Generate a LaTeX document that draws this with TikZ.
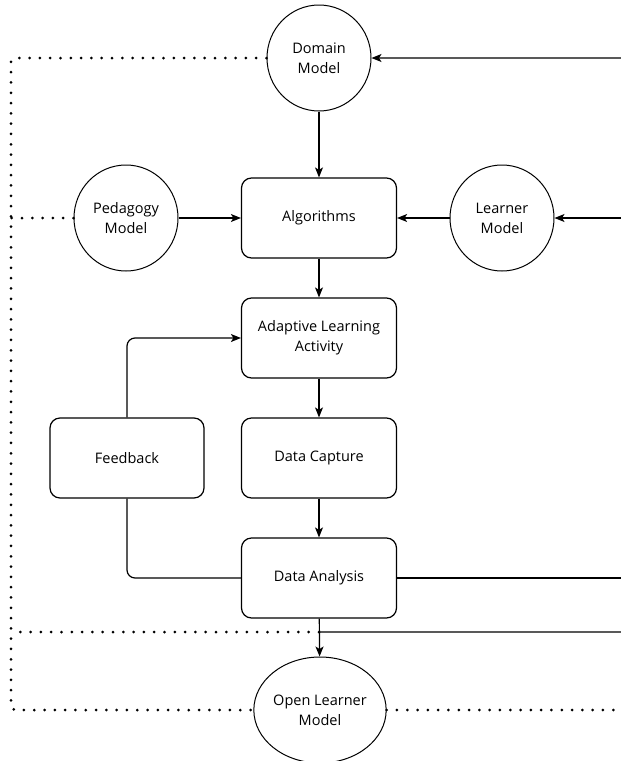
\documentclass[tikz,border=0pt]{standalone}
\usepackage{fontspec}
\setmainfont{Open Sans}
\usetikzlibrary{arrows.meta,shapes.geometric}
\tikzset{
  box/.style={draw, rounded corners=10pt, minimum width=155pt, minimum height=80pt, align=center, line width=1.2pt},
  model/.style={draw, ellipse, inner sep=0pt, minimum width=104pt, minimum height=106pt, align=center, line width=1pt},
  flow/.style={-{Stealth[length=10pt,width=8pt,inset=2.5pt]}, line width=1.2pt},
  link/.style={line width=1.2pt, rounded corners=8pt},
  dots/.style={line width=3pt, line cap=round, dash pattern=on 0pt off 10.3pt}
}
\begin{document}
\begin{tikzpicture}[x=1pt,y=-1pt,font=\fontsize{14.5}{20}\selectfont]
    \useasboundingbox (0,0) rectangle (621,761);
    \clip (0,0) rectangle (621,761);
    % models
    \node[model] (domain) at (319,58) {Domain\\Model};
    \node[model] (pedagogy) at (126,218) {Pedagogy\\Model};
    \node[model] (learner) at (502,218) {Learner\\Model};
    \node[model, minimum width=130pt] (olm) at (320,710) {Open Learner\\Model};
    % process
    \node[box] (algo) at (319,218) {Algorithms};
    \node[box] (activity) at (319,338) {Adaptive Learning\\Activity};
    \node[box] (capture) at (319,458) {Data Capture};
    \node[box] (analysis) at (319,578) {Data Analysis};
    \node[box, minimum width=154pt] (feedback) at (127,458) {Feedback};
    % rail on the right and dotted rail on the left
    \coordinate (railtop) at (630,58);
    \coordinate (railmid) at (630,218);
    \coordinate (raillow) at (630,578);
    \coordinate (tap) at (319,632);
    \coordinate (dtl) at (11,58);
    \coordinate (dmid) at (11,218);
    \coordinate (dlow) at (11,632);
    \coordinate (dbl) at (11,710);
    \coordinate (dright) at (630,710);
    \draw[flow] (domain) -- (algo);
    \draw[flow] (pedagogy) -- (algo);
    \draw[flow] (learner) -- (algo);
    \draw[flow] (algo) -- (activity);
    \draw[flow] (activity) -- (capture);
    \draw[flow] (capture) -- (analysis);
    \draw[flow] (analysis) -- (olm);
    \draw[link] (analysis.west) -| (feedback.south);
    \draw[link, flow] (feedback.north) |- (activity.west);
    \draw[link, flow] (tap) -| (railtop) -- (domain.east);
    \draw[flow] (railmid) -- (learner.east);
    \draw[link] (analysis.east) -- (raillow);
    % \draw[dots] (olm.east) |- (railtop);
    \draw[dots, rounded corners=4pt] (domain.west) -- (dtl) -- (dbl) -- (olm.west);
    \draw[dots] (pedagogy.west) -- (dmid);
    \draw[dots] (tap) -- (dlow);
    \draw[dots] (olm.east) -- (dright);
\end{tikzpicture}
\end{document}
